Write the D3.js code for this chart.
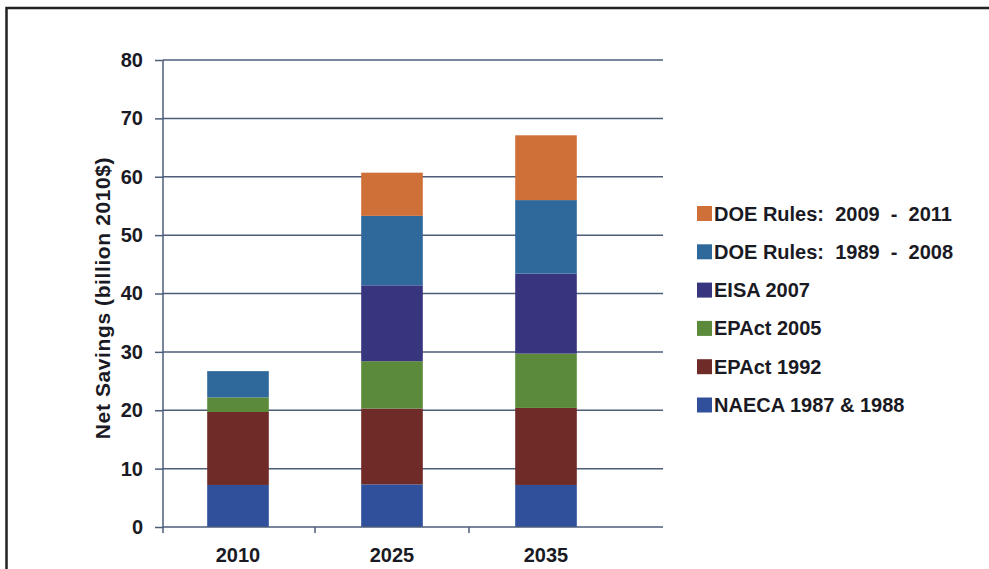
<!DOCTYPE html>
<html><head><meta charset="utf-8">
<script src="https://cdn.jsdelivr.net/npm/d3@7"></script>
<style>html,body{margin:0;padding:0;background:#fff;}svg{display:block;}</style>
</head><body>
<svg id="c" width="989" height="569"></svg>
<script>
const categories = ["2010", "2025", "2035"];
const seriesNames = ["NAECA 1987 & 1988", "EPAct 1992", "EPAct 2005", "EISA 2007", "DOE Rules: 1989 - 2008", "DOE Rules: 2009 - 2011"];
const legendLabels = ["NAECA 1987 & 1988", "EPAct 1992", "EPAct 2005", "EISA 2007", "DOE Rules:  1989  -  2008", "DOE Rules:  2009  -  2011"];
const naeca = [7.2, 7.3, 7.2];
const epact1992 = [12.5, 13.0, 13.2];
const epact2005 = [2.5, 8.1, 9.3];
const eisa2007 = [0, 13.0, 13.7];
const doe1989 = [4.5, 11.9, 12.6];
const doe2009 = [0, 7.4, 11.1];
const yTicks = [0, 10, 20, 30, 40, 50, 60, 70, 80];
const colors = ["#30509c", "#6f2b28", "#5b8a3b", "#38357f", "#2f689b", "#cf7038"];

const seriesVals = [naeca, epact1992, epact2005, eisa2007, doe1989, doe2009];
const rows = categories.map((c, i) => {
  const r = {cat: c};
  seriesNames.forEach((s, j) => r[s] = seriesVals[j][i]);
  return r;
});
const stacked = d3.stack().keys(seriesNames)(rows);

const svg = d3.select("#c");
const FONT = "'Liberation Sans', Arial, sans-serif";
const textColor = "#1a1a24";
// frame
svg.append("rect").attr("x", 6.5).attr("y", 8).attr("width", 1000).attr("height", 600)
  .attr("fill", "none").attr("stroke", "#222").attr("stroke-width", 2.5);

const y = d3.scaleLinear().domain([0, 80]).range([527, 60]);
const x = d3.scaleBand().domain(categories).range([161, 623]).paddingInner(0.6).paddingOuter(0.3);
const xTick = d3.scaleBand().domain(categories).range([161, 623]);

const axisColor = "#4d5d78";
// gridlines
svg.append("g").selectAll("line").data(yTicks.filter(d => d > 0)).join("line")
  .attr("x1", 163).attr("x2", 663).attr("y1", d => y(d)).attr("y2", d => y(d))
  .attr("stroke", axisColor).attr("stroke-width", 1.5);

// bars
svg.append("g").selectAll("g").data(stacked).join("g")
  .attr("fill", (d, i) => colors[i])
  .selectAll("rect").data(d => d).join("rect")
  .attr("x", d => x(d.data.cat)).attr("width", x.bandwidth())
  .attr("y", d => y(d[1])).attr("height", d => y(d[0]) - y(d[1]));

// y axis
const yAxis = svg.append("g").attr("transform", "translate(163,0)")
  .call(d3.axisLeft(y).tickValues(yTicks).tickSize(8).tickPadding(12));
yAxis.select(".domain").attr("stroke", axisColor).attr("stroke-width", 1.5).attr("d", `M0,${y(0)}V${y(80)}`);
yAxis.selectAll(".tick line").attr("stroke", axisColor).attr("stroke-width", 1.5);
yAxis.selectAll("text").attr("fill", textColor).style("font", `bold 20px ${FONT}`);

// x axis
const xAxisG = svg.append("g").attr("transform", `translate(0,${y(0)})`);
xAxisG.append("line").attr("x1", 163).attr("x2", 663).attr("y1", 0).attr("y2", 0)
  .attr("stroke", axisColor).attr("stroke-width", 1.5);
const bounds = categories.map(c => xTick(c));
xAxisG.selectAll("line.t").data(bounds).join("line").attr("class", "t")
  .attr("x1", (d, i) => i === 0 ? 163 : d).attr("x2", (d, i) => i === 0 ? 163 : d).attr("y1", 0).attr("y2", 6)
  .attr("stroke", axisColor).attr("stroke-width", 1.5);
xAxisG.selectAll("text").data(categories).join("text")
  .attr("x", d => x(d) + x.bandwidth() / 2).attr("y", 35)
  .attr("text-anchor", "middle").attr("fill", textColor)
  .style("font", `bold 20px ${FONT}`)
  .text(d => d);

// y label
svg.append("text").attr("transform", "translate(110,298) rotate(-90)")
  .attr("text-anchor", "middle").attr("fill", textColor)
  .style("font", `bold 21px ${FONT}`).style("letter-spacing", "0.6px")
  .text("Net Savings (billion 2010$)");

// legend
const legOrder = d3.range(seriesNames.length).reverse();
const leg = svg.append("g");
const li = leg.selectAll("g").data(legOrder).join("g")
  .attr("transform", (d, i) => `translate(697,${213 + i * 38.3})`);
li.append("rect").attr("x", 0).attr("y", -7).attr("width", 15).attr("height", 15).attr("fill", d => colors[d]);
li.append("text").attr("x", 17).attr("y", 7.5).attr("fill", textColor)
  .attr("xml:space", "preserve").style("white-space", "pre")
  .style("font", `bold 20px ${FONT}`)
  .text(d => legendLabels[d]);
</script>
</body></html>
